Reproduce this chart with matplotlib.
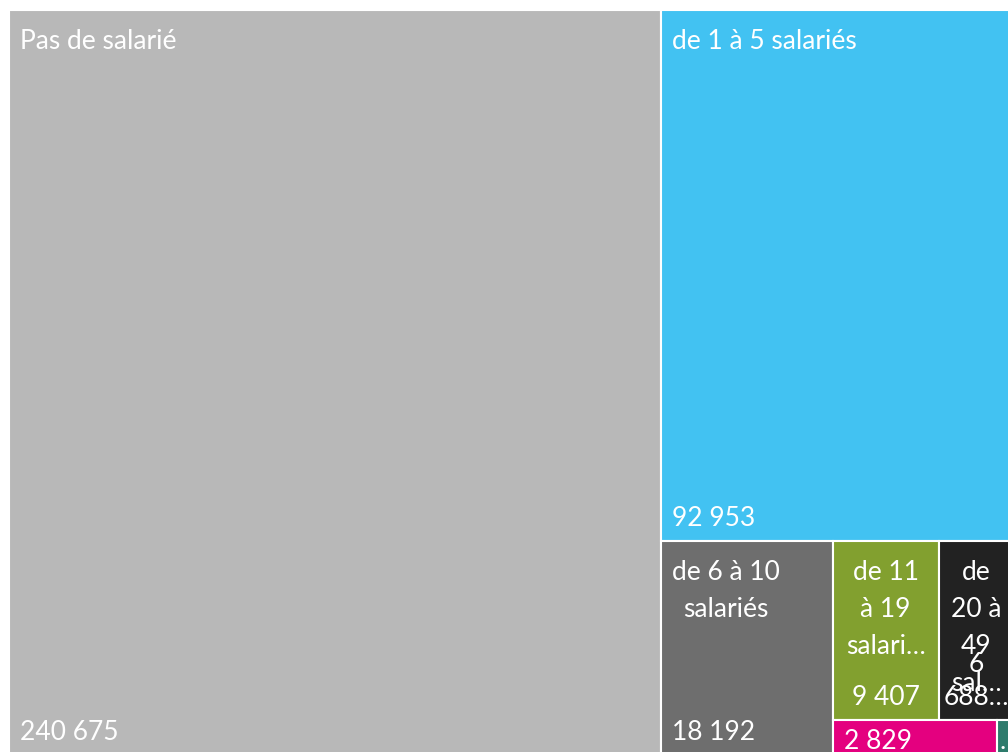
import matplotlib.pyplot as plt
from matplotlib.patches import Rectangle

plt.rcParams['font.family'] = ['Lato', 'DejaVu Sans']

# données du treemap
names = ["Pas de salarié", "de 1 à 5 salariés", "de 6 à 10\nsalariés",
         "de 11\nà 19\nsalari…", "de\n20 à\n49\nsal…", "", "…"]
values = [240675, 92953, 18192, 9407, 6688, 2829, 300]
colors = ['#b8b8b8', '#42c2f2', '#6e6e6e', '#82a02f', '#222222', '#e4007f', '#2e7b6c']

# découpage imbriqué (alternance horizontal / vertical)
tree = [0, [1, [2, [[3, 4], [5, 6]]]]]


def total(node):
    if isinstance(node, int):
        return values[node]
    return sum(total(c) for c in node)


rects = {}


def layout(node, x, y, w, h, horiz):
    if isinstance(node, int):
        rects[node] = (x, y, w, h)
        return
    t = total(node)
    for c in node:
        f = total(c) / t
        if horiz:
            layout(c, x, y, w * f, h, not horiz)
            x += w * f
        else:
            layout(c, x, y, w, h * f, not horiz)
            y += h * f


def fmt(v):
    return f"{v:,}".replace(",", " ")


fig = plt.figure(figsize=(10.08, 7.52), dpi=100)
ax = fig.add_axes([0, 0, 1, 1])
ax.set_xlim(0, 1008)
ax.set_ylim(752, 0)
ax.axis('off')

layout(tree, 9, 10, 1005, 745, True)

fs = 19
for i in range(len(values)):
    x, y, w, h = rects[i]
    r = Rectangle((x, y), w, h, facecolor=colors[i], edgecolor='white', lw=1.5)
    ax.add_patch(r)
    centered = w < 130
    tx = x + w / 2 if centered else x + 11
    ha = 'center' if centered else 'left'
    val = fmt(values[i])
    if i == 4:
        val = "6\n688…"
    if i == 6:
        val = ""
    if h < 60:
        # trop petit : une seule ligne en haut
        txt = val if val else names[i]
        t = ax.text(x + 11 if w > 60 else x + 3, y + 9, txt, color='white', fontsize=fs,
                    ha='left', va='top')
        t.set_clip_path(r)
        continue
    t1 = ax.text(tx, y + 19, names[i], color='white', fontsize=fs, ha=ha, va='top',
                 multialignment='center', linespacing=1.6)
    t1.set_clip_path(r)
    t2 = ax.text(tx, y + h - 10, val, color='white', fontsize=fs, ha=ha, va='bottom',
                 multialignment='center', linespacing=1.4)
    t2.set_clip_path(r)

fig.savefig('out.png', dpi=100)
